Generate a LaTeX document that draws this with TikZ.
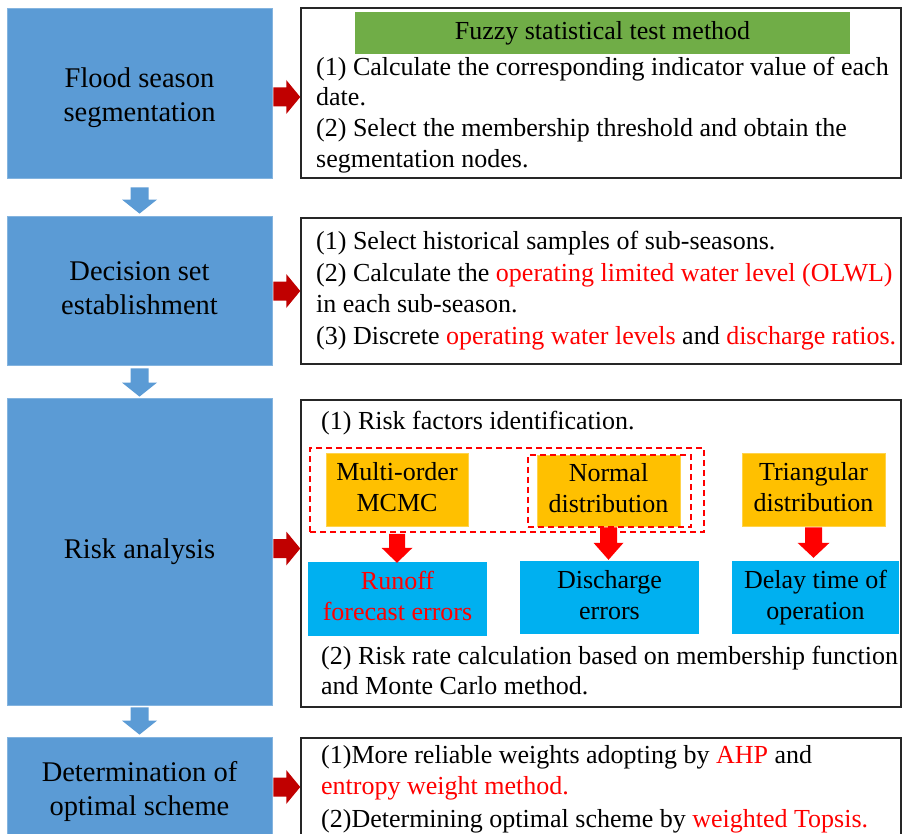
\documentclass[tikz,border=0pt]{standalone}
\usepackage{fontspec}
\setmainfont{Liberation Serif}
\usetikzlibrary{calc}
\definecolor{boxblue}{HTML}{5B9BD5}
\definecolor{hgreen}{HTML}{70AD47}
\definecolor{orng}{HTML}{FFC000}
\definecolor{cyanb}{HTML}{00B0F0}
\definecolor{darkred}{HTML}{C00000}
\definecolor{brred}{HTML}{FF0000}
\newcommand\rd[1]{\textcolor{brred}{#1}}
% vertical block arrow: style, start, tip, shaft half width, head half width, head length
\newcommand\varrow[6]{%
  \fill[#1] let \p1=(#2), \p2=(#3) in
  (\x1-#4,\y1) -- (\x1+#4,\y1) -- (\x1+#4,\y2+#6) -- (\x1+#5,\y2+#6) -- (\x1,\y2)
  -- (\x1-#5,\y2+#6) -- (\x1-#4,\y2+#6) -- cycle;}
% horizontal block arrow
\newcommand\harrow[6]{%
  \fill[#1] let \p1=(#2), \p2=(#3) in
  (\x1,\y1+#4) -- (\x2-#6,\y1+#4) -- (\x2-#6,\y1+#5) -- (\x2,\y1)
  -- (\x2-#6,\y1-#5) -- (\x2-#6,\y1-#4) -- (\x1,\y1-#4) -- cycle;}
\begin{document}
\begin{tikzpicture}[x=1pt,y=-1pt,
  lbox/.style={fill=boxblue, draw=boxblue!75!white, line width=0.8pt, inner sep=0pt,
    align=center, minimum width=265pt, font=\fontsize{28.5}{34}\selectfont},
  ltext/.style={align=center, inner sep=0pt, font=\fontsize{28.5}{34}\selectfont},
  rbox/.style={draw=black!85, line width=1.5pt, fill=white, inner sep=0pt, minimum width=600pt},
  rt/.style={anchor=base west, inner sep=0pt, font=\fontsize{26}{31}\selectfont},
  obox/.style={fill=orng, draw=orng!70!white, line width=0.6pt, inner sep=0pt, align=center,
    font=\fontsize{26}{31}\selectfont},
  cbox/.style={fill=cyanb, inner sep=0pt, align=center, font=\fontsize{26}{31}\selectfont},
  dbox/.style={draw=brred, dash pattern=on 6pt off 4pt, line width=1.5pt, inner sep=0pt},
  barrow/.style={fill=boxblue},
  drarrow/.style={fill=darkred},
  rarrow/.style={fill=brred}]
\fill[white] (0,0) rectangle (904,834);
\useasboundingbox (0,0) rectangle (904,834);

% left column
\node[lbox, minimum height=170pt] (L1) at (139.5,93) {};
\node[ltext] (L1t) at (139.5,97.5) {\strut Flood season\\segmentation\strut};
\node[lbox, minimum height=149pt] (L2) at (139.5,290.5) {\strut Decision set\\establishment\strut};
\node[lbox, minimum height=307pt] (L3) at (139.5,551.5) {Risk analysis};
\node[lbox, minimum height=123pt] (L4) at (139.5,798.5) {};
\node[ltext] (L4t) at (139.5,791.5) {\strut Determination of\\optimal scheme\strut};

% blue down arrows
\varrow{barrow}{$(L1.south)+(0,9)$}{$(L2.north)+(0,-2)$}{9}{17.5}{14}
\varrow{barrow}{$(L2.south)+(0,3)$}{$(L3.north)+(0,-1)$}{9}{17.5}{14}
\varrow{barrow}{$(L3.south)+(0,2)$}{$(L4.north)+(0,-2)$}{9}{17.5}{14}

% right boxes
\node[rbox, minimum height=170pt] (R1) at (601,93) {};
\node[rbox, minimum height=146pt] (R2) at (601,291) {};
\node[rbox, minimum height=307pt] (R3) at (601,553.5) {};
\node[rbox, minimum height=122pt] (R4) at (601,799) {};

% dark red arrows
\harrow{drarrow}{$(L1.east)+(1,4)$}{R1.west}{9.5}{17}{14}
\harrow{drarrow}{$(L2.east)+(1,0.5)$}{R2.west}{9.5}{17}{14}
\harrow{drarrow}{$(L3.east)+(1,-3)$}{R3.west}{9.5}{17}{14}
\harrow{drarrow}{$(L4.east)+(1,-11.5)$}{R4.west}{9.5}{17}{14}

% box 1 contents
\node[fill=hgreen, inner sep=0pt, minimum width=495pt, minimum height=42pt,
  font=\fontsize{26}{31}\selectfont] (G) at (602.5,33) {Fuzzy statistical test method};
\node[rt] (r1a) at (316,76) {(1) Calculate the corresponding indicator value of each};
\node[rt] (r1b) at (316,106) {date.};
\node[rt] (r1c) at (316,137) {(2) Select the membership threshold and obtain the};
\node[rt] (r1d) at (316,168) {segmentation nodes.};

% box 2 contents
\node[rt] (r2a) at (316,250) {(1) Select historical samples of sub-seasons.};
\node[rt] (r2b) at (316,281) {(2) Calculate the \rd{operating limited water level (OLWL)}};
\node[rt] (r2c) at (316,312) {in each sub-season.};
\node[rt] (r2d) at (316,344) {(3) Discrete \rd{operating water levels} and \rd{discharge ratios.}};

% box 3 contents
\node[rt] (r3a) at (321,429) {(1) Risk factors identification.};
\node[obox, minimum width=142pt, minimum height=73pt] (O1) at (397,489.5) {\strut Multi-order\\MCMC\strut};
\node[obox, minimum width=143pt, minimum height=71pt] (O2) at (608.5,490.5) {\strut Normal\\distribution\strut};
\node[obox, minimum width=143pt, minimum height=73pt] (O3) at (813.5,489.5) {\strut Triangular\\distribution\strut};
\node[dbox, minimum width=394pt, minimum height=84pt] (D1) at (507,490) {};
\node[dbox, minimum width=163pt, minimum height=72pt] (D2) at (609.5,491) {};
\node[cbox, text=brred, minimum width=179pt, minimum height=74pt] (C1) at (397.5,599) {\strut Runoff\\forecast errors\strut};
\node[cbox, minimum width=179pt, minimum height=73pt] (C2) at (609.5,597.5) {\strut Discharge\\errors\strut};
\node[cbox, minimum width=167pt, minimum height=73pt] (C3) at (815.5,597.5) {\strut Delay time of\\operation\strut};
\varrow{rarrow}{$(D1.south -| O1.south)+(0,1)$}{$(C1.north)+(0,1)$}{8}{15.5}{15}
\varrow{rarrow}{$(O2.south)+(0,1)$}{$(C2.north)+(0,-1)$}{8.5}{15}{17}
\varrow{rarrow}{$(O3.south)+(0,1)$}{$(C3.north)+(0,-3)$}{8.5}{16}{15}
\node[rt] (r3b) at (321,664) {(2) Risk rate calculation based on membership function};
\node[rt] (r3c) at (321,694) {and Monte Carlo method.};

% box 4 contents
\node[rt] (r4a) at (321,763) {(1)More reliable weights adopting by \rd{AHP} and};
\node[rt] (r4b) at (321,794) {\rd{entropy weight method.}};
\node[rt] (r4c) at (321,827) {(2)Determining optimal scheme by \rd{weighted Topsis.}};
\end{tikzpicture}
\end{document}
